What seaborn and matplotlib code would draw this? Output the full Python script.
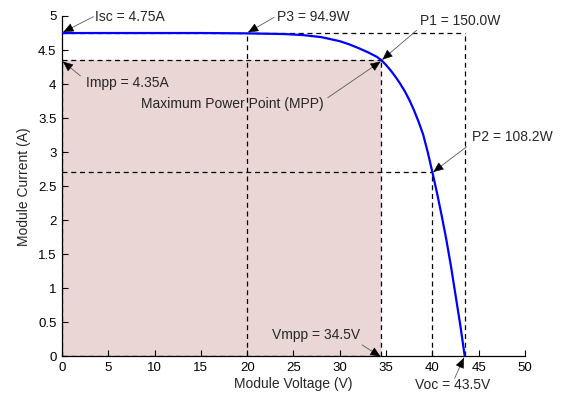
import matplotlib
matplotlib.use("Agg")
import matplotlib.pyplot as plt
import seaborn as sns
import pandas as pd
import numpy as np

# ---- data ----
voltage = [0, 5, 10, 15, 20, 22, 24, 26, 27, 28, 29, 30, 31, 32, 33, 34, 34.5,
           35, 35.5, 36, 36.5, 37, 37.5, 38, 38.5, 39, 39.5, 40, 40.5, 41, 41.5,
           42, 42.5, 43, 43.5]
current = [4.75, 4.75, 4.75, 4.75, 4.745, 4.74, 4.735, 4.72, 4.705, 4.69, 4.66, 4.63,
           4.585, 4.53, 4.47, 4.40, 4.35,
           4.28, 4.20, 4.11, 4.01, 3.90, 3.77, 3.62, 3.45, 3.26, 3.00, 2.705, 2.40,
           2.07, 1.72, 1.33, 0.90, 0.47, 0.0]

isc, voc = 4.75, 43.5
vmpp, impp = 34.5, 4.35
v_p2, i_p2 = 40.0, 2.705
v_p3 = 20.0

x_ticks = [0, 5, 10, 15, 20, 25, 30, 35, 40, 45, 50]
y_ticks = [0, 0.5, 1, 1.5, 2, 2.5, 3, 3.5, 4, 4.5, 5]
y_ticklabels = ["0", "0.5", "1", "1.5", "2", "2.5", "3", "3.5", "4", "4.5", "5"]

labels = ["Isc = 4.75A", "P3 = 94.9W", "P1 = 150.0W", "Maximum Power Point (MPP)",
          "P2 = 108.2W", "Impp = 4.35A", "Vmpp = 34.5V", "Voc = 43.5V"]

sns.set_style("ticks")
plt.rcParams["font.family"] = ["Liberation Sans", "DejaVu Sans"]
plt.rcParams["xtick.direction"] = "in"
plt.rcParams["ytick.direction"] = "in"

fig = plt.figure(figsize=(5.65, 3.94), dpi=100)
ax = fig.add_axes([0.1097, 0.0952, 0.8195, 0.8642])

# shaded MPP rectangle
ax.fill_between([0, vmpp], 0, impp, color="#EBD6D6", lw=0, zorder=0)

dash = dict(color="black", lw=0.9, ls=(0, (4, 3)), zorder=2)
ax.plot([0, voc], [isc, isc], **dash)
ax.plot([voc, voc], [0, isc], **dash)
ax.plot([0, vmpp], [impp, impp], **dash)
ax.plot([vmpp, vmpp], [0, impp], **dash)
ax.plot([0, vmpp], [0, 0], **dash)
ax.plot([0, 0], [0, impp], **dash)
ax.plot([v_p3, v_p3], [0, isc], **dash)
ax.plot([0, v_p2], [i_p2, i_p2], **dash)
ax.plot([v_p2, v_p2], [0, i_p2], **dash)

df = pd.DataFrame({"V": voltage, "I": current})
sns.lineplot(data=df, x="V", y="I", sort=False, color="#0000FF", lw=1.6, ax=ax, zorder=3)

ax.set_xlim(0, 50)
ax.set_ylim(0, 5)
ax.set_xticks(x_ticks)
ax.set_yticks(y_ticks)
ax.set_yticklabels(y_ticklabels)
ax.tick_params(axis="both", labelsize=9.5, length=4, width=0.8, pad=4, colors="black")
ax.spines["top"].set_visible(False)
ax.spines["right"].set_visible(False)
for s in ["left", "bottom"]:
    ax.spines[s].set_linewidth(0.9)
    ax.spines[s].set_color("black")
ax.set_xlabel("Module Voltage (V)", fontsize=10, labelpad=2)
ax.set_ylabel("Module Current (A)", fontsize=10, labelpad=5)


def pointer(text, text_xy, tail, tip, ha="left"):
    ax.text(text_xy[0], text_xy[1], text, ha=ha, va="center", fontsize=10,
            clip_on=False, zorder=5)
    ax.annotate("", xy=tip, xytext=tail, xycoords="data", textcoords="data",
                arrowprops=dict(arrowstyle="-", color="0.35", lw=0.6,
                                shrinkA=0, shrinkB=0), annotation_clip=False, zorder=4)
    # black arrow head
    p_tip = ax.transData.transform(tip)
    p_tail = ax.transData.transform(tail)
    d = p_tail - p_tip
    d = d / np.hypot(*d)
    base = ax.transData.inverted().transform(p_tip + d * 10)
    ax.annotate("", xy=tip, xytext=base, xycoords="data", textcoords="data",
                arrowprops=dict(arrowstyle="-|>,head_length=0.65,head_width=0.28",
                                color="black", lw=0.4, shrinkA=0, shrinkB=0),
                annotation_clip=False, zorder=6)


pointer(labels[0], (3.6, 4.99), (3.4, 4.99), (0.15, 4.765))
pointer(labels[1], (23.2, 4.99), (22.9, 4.98), (20.1, 4.76))
pointer(labels[2], (38.7, 4.92), (38.3, 4.79), (34.6, 4.36))
pointer(labels[3], (8.5, 3.71), (28.7, 3.80), (34.4, 4.33))
pointer(labels[4], (44.3, 3.23), (43.7, 3.08), (40.1, 2.71))
pointer(labels[5], (2.6, 4.02), (2.0, 4.12), (0.1, 4.33))
pointer(labels[6], (22.7, 0.32), (32.4, 0.17), (34.4, 0.0))
pointer(labels[7], (38.1, -0.42), (42.4, -0.32), (43.4, -0.02))

fig.savefig("out.png", dpi=100)
